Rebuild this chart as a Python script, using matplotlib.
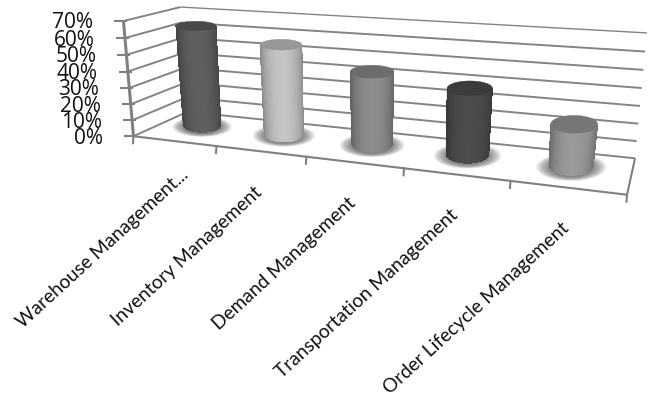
import numpy as np
import matplotlib
matplotlib.use('Agg')
import matplotlib.pyplot as plt
from matplotlib.collections import PolyCollection

categories = ['Warehouse Management...', 'Inventory Management', 'Demand Management',
              'Transportation Management', 'Order Lifecycle Management']
values = [63, 55, 43, 38, 23]
y_ticks = [0, 10, 20, 30, 40, 50, 60, 70]
y_labels = ['0%', '10%', '20%', '30%', '40%', '50%', '60%', '70%']

# bar greys, one per category
bar_greys = [0.36, 0.74, 0.53, 0.29, 0.58]

GRID = '#848484'
AXIS = '#808080'
n = len(categories)


def fit_camera():
    # 3x4 projection from box corners (category, depth, percent) to pixels
    world = [(0, 0, 0), (n, 0, 0), (n, 1, 0), (0, 1, 0), (0, 1, 70), (n, 1, 70), (0, 0, 70)]
    pix = [(133, 136), (627, 195), (635, 158), (188, 112), (180, 7), (647, 33), (124, 21)]
    rows = []
    for (X, Y, Z), (px, py) in zip(world, pix):
        rows.append([X, Y, Z, 1, 0, 0, 0, 0, -px * X, -px * Y, -px * Z, -px])
        rows.append([0, 0, 0, 0, X, Y, Z, 1, -py * X, -py * Y, -py * Z, -py])
    _, _, vt = np.linalg.svd(np.array(rows, dtype=float))
    return vt[-1].reshape(3, 4)


P = fit_camera()


def project(u, v, z):
    u, v, z = np.broadcast_arrays(u, v, z)
    pts = np.stack([u, v, z, np.ones_like(u, dtype=float)], axis=-1) @ P.T
    return pts[..., 0] / pts[..., 2], pts[..., 1] / pts[..., 2]


fig = plt.figure(figsize=(6.53, 3.99), dpi=100)
ax = fig.add_axes([0, 0, 1, 1])
ax.set_xlim(0, 653)
ax.set_ylim(399, 0)
ax.axis('off')


def line(u, v, z, color=GRID, lw=1.4, zorder=2):
    x, y = project(np.array(u, float), np.array(v, float), np.array(z, float))
    ax.plot(x, y, color=color, lw=lw, zorder=zorder, solid_capstyle='butt')


# walls
for t in y_ticks:
    line([0, 0], [0, 1], [t, t])
    line([0, n], [1, 1], [t, t], lw=1.0 if t == 70 else 1.4)

# floor
line([0, n], [0, 0], [0, 0], color=AXIS, lw=1.5)
line([n, n], [0, 1], [0, 0], color=AXIS, lw=1.5)

# value axis and ticks
line([0, 0], [0, 0], [0, 70], color=AXIS, lw=2.2)
for t, lab in zip(y_ticks, y_labels):
    x, y = project(0.0, 0.0, float(t))
    ax.plot([x - 8, x + 3], [y, y], color=AXIS, lw=1.5, zorder=2)
    ax.text(x - 30, y + 2, lab, ha='right', va='center', fontsize=15,
            family='Open Sans', color='#111111')

# category ticks
for i in range(n + 1):
    x, y = project(float(i), 0.0, 0.0)
    ax.plot([x, x - 0.5], [y, y + 7], color=AXIS, lw=1.5, zorder=2)


def ellipse_half_height(i, z):
    _, y0 = project(i + 0.5, 0.3, float(z))
    _, y1 = project(i + 0.5, 0.9, float(z))
    return abs(y0 - y1) / 2


t_front = np.linspace(0, np.pi, 49)
t_full = np.linspace(0, 2 * np.pi, 97)
half_widths = np.linspace(20, 23.5, n)
BAR_DEPTH = 0.6

for i, (val, grey) in enumerate(zip(values, bar_greys)):
    zo = 3 + i
    xb, yb = project(i + 0.45, BAR_DEPTH, 0.0)
    xt, yt = project(i + 0.45, BAR_DEPTH, float(val))
    wt = half_widths[i]
    wb = wt * 0.94
    eb = ellipse_half_height(i, 0)
    et = ellipse_half_height(i, val)

    # soft floor shadow, widest and faintest first
    polys = []
    for k in np.linspace(1.6, 0.95, 22):
        polys.append(np.column_stack([xb + wb * k * np.cos(t_full),
                                      yb + 2 + eb * (0.4 + 0.6 * k) * np.sin(t_full)]))
    ax.add_collection(PolyCollection(polys, facecolors='#484848', edgecolors='none',
                                     alpha=0.045, zorder=zo))

    # silhouette keeps the outline smooth under the strips
    edge = grey * 0.74
    outline_x = np.r_[xb + wb * np.cos(t_front), xt + wt * np.cos(t_front[::-1])]
    outline_y = np.r_[yb + eb * np.sin(t_front), yt + et * np.sin(t_front[::-1])]
    ax.fill(outline_x, outline_y, color=(edge, edge, edge), lw=0.3, zorder=zo)

    # cylinder wall from thin strips, light falls in the middle
    strips, cols = [], []
    for a, b in zip(t_front[:-1], t_front[1:]):
        strips.append([(xb + wb * np.cos(a), yb + eb * np.sin(a)),
                       (xb + wb * np.cos(b), yb + eb * np.sin(b)),
                       (xt + wt * np.cos(b), yt + et * np.sin(b)),
                       (xt + wt * np.cos(a), yt + et * np.sin(a))])
        s = grey * (0.74 + 0.30 * np.sin((a + b) / 2) ** 1.5)
        cols.append((min(s, 1), min(s, 1), min(s, 1)))
    ax.add_collection(PolyCollection(strips, facecolors=cols, edgecolors='none',
                                     antialiaseds=False, zorder=zo))

    # cap
    top = grey * 0.80
    ax.fill(xt + wt * np.cos(t_full), yt + et * np.sin(t_full), color=(top, top, top),
            lw=0.3, zorder=zo + 0.5)

# category labels, right end anchored below the floor edge
for i, lab in enumerate(categories):
    x, y = project(i + 0.5, 0.0, 0.0)
    dx, dy = (6, 25) if i == 0 else (-7, 32)
    ax.text(x + dx, y + dy, lab, rotation=42.5, rotation_mode='anchor',
            ha='right', va='top', fontsize=13.8, family='Lato', color='#111111')

fig.savefig('out.png', dpi=100)
